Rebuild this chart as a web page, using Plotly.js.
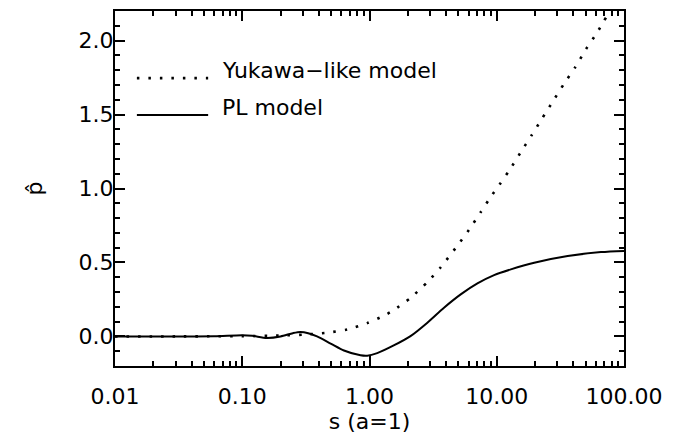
<!DOCTYPE html>
<html>
<head>
<meta charset="utf-8">
<script src="https://cdn.plot.ly/plotly-3.0.1.min.js"></script>
<style>html,body{margin:0;padding:0;background:#fff;}</style>
</head>
<body>
<div id="chart" style="width:693px;height:439px;"></div>
<script>
// Yukawa-like model (dotted)
const yukS = [0.01, 0.03, 0.1, 0.2, 0.3, 0.464, 0.667, 0.96, 1.3, 1.55, 2.1, 2.85, 3.6, 4.9, 6.05, 7.48, 9.24, 10.1, 12.5, 15.3, 18.8, 22.6, 27.9, 33.9, 41.4, 50.1, 62.1, 69.2, 100];
const yukV = [0, 0, 0.002, 0.006, 0.012, 0.025, 0.047, 0.09, 0.14, 0.178, 0.26, 0.367, 0.464, 0.613, 0.72, 0.84, 0.96, 1.005, 1.12, 1.24, 1.36, 1.47, 1.595, 1.71, 1.82, 1.94, 2.06, 2.13, 2.345];
// PL model (solid)
const plS = [0.01, 0.03, 0.06, 0.1, 0.12, 0.156, 0.2, 0.25, 0.286, 0.33, 0.387, 0.5, 0.63, 0.85, 0.96, 1.15, 1.55, 2.1, 2.85, 3.85, 5.21, 7.05, 9.53, 12.9, 19.7, 36.1, 65.9, 100];
const plV = [0, 0, 0.001, 0.008, 0.004, -0.01, 0.0, 0.022, 0.03, 0.022, 0.0, -0.05, -0.095, -0.128, -0.131, -0.113, -0.061, 0.002, 0.093, 0.194, 0.284, 0.358, 0.414, 0.453, 0.498, 0.543, 0.570, 0.578];

const seriesNames = ["Yukawa\u2212like model", "PL model"];
const xTitle = "s (a=1)";
const yTitle = "p\u0302";

const FONT = "DejaVu Sans, sans-serif";
const FS = 22;

const traces = [
  {x: yukS, y: yukV, mode: "lines", line: {color: "#000", width: 2.6, dash: "2.5px,9px", shape: "spline", smoothing: 0.6}, name: seriesNames[0], showlegend: false},
  {x: plS, y: plV, mode: "lines", line: {color: "#000", width: 2, shape: "spline", smoothing: 0.8}, name: seriesNames[1], showlegend: false}
];

const axisCommon = {
  showline: true, linecolor: "#000", linewidth: 2, mirror: "allticks",
  ticks: "inside", ticklen: 10, tickwidth: 2, tickcolor: "#000",
  showgrid: false, zeroline: false,
  tickfont: {family: FONT, size: FS, color: "#000"}
};

const layout = {
  width: 693, height: 439,
  margin: {l: 115, r: 69, t: 11, b: 73},
  paper_bgcolor: "#fff", plot_bgcolor: "#fff",
  showlegend: false,
  xaxis: Object.assign({}, axisCommon, {
    type: "log", range: [-2, 2], dtick: 1, tickformat: ".2f",
    ticklabelstandoff: 10,
    minor: {dtick: "D1", ticks: "inside", ticklen: 5, tickwidth: 2, tickcolor: "#000", showgrid: false},
    title: {text: xTitle, font: {family: FONT, size: FS, color: "#000"}, standoff: 0}
  }),
  yaxis: Object.assign({}, axisCommon, {
    range: [-0.2, 2.2], dtick: 0.5, tick0: 0, tickformat: ".1f",
    ticklabelstandoff: -5,
    minor: {dtick: 0.1, ticks: "inside", ticklen: 5, tickwidth: 2, tickcolor: "#000", showgrid: false},
    title: {text: yTitle, font: {family: FONT, size: FS, color: "#000"}, standoff: 30}
  }),
  shapes: [
    {type: "line", xref: "paper", yref: "paper", x0: 0.043, x1: 0.183, y0: 0.811, y1: 0.811, line: {color: "#000", width: 2.6, dash: "2.5px,9px"}},
    {type: "line", xref: "paper", yref: "paper", x0: 0.043, x1: 0.183, y0: 0.707, y1: 0.707, line: {color: "#000", width: 2}}
  ],
  annotations: [
    {xref: "paper", yref: "paper", x: 0.206, y: 0.811, xanchor: "left", yanchor: "bottom", yshift: -7, text: seriesNames[0], showarrow: false, font: {family: FONT, size: FS, color: "#000"}},
    {xref: "paper", yref: "paper", x: 0.206, y: 0.707, xanchor: "left", yanchor: "bottom", yshift: -7, text: seriesNames[1], showarrow: false, font: {family: FONT, size: FS, color: "#000"}}
  ]
};

Plotly.newPlot("chart", traces, layout, {displayModeBar: false, staticPlot: true});
</script>
</body>
</html>
